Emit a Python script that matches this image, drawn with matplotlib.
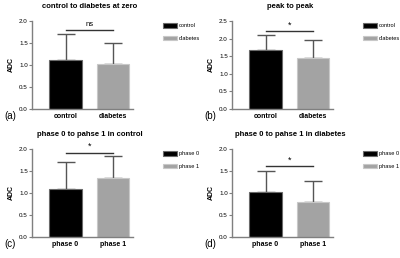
import matplotlib
matplotlib.use("Agg")
import matplotlib.pyplot as plt

plt.rcParams["font.family"] = ["Liberation Sans", "DejaVu Sans"]

# ---------------------------------------------------------------------------
# Data
# ---------------------------------------------------------------------------
titles = ["control to diabetes at zero", "peak to peak",
          "phase 0 to pahse 1 in control", "phase 0 to pahse 1 in diabetes"]
panel_tags = ["(a)", "(b)", "(c)", "(d)"]
groups_ab = ["control", "diabetes"]
groups_cd = ["phase 0", "phase 1"]
means_a = [1.12, 1.03]
sd_a = [0.58, 0.47]
means_b = [1.68, 1.45]
sd_b = [0.42, 0.50]
means_c = [1.10, 1.35]
sd_c = [0.60, 0.48]
means_d = [1.02, 0.80]
sd_d = [0.49, 0.47]
sig_labels = ["ns", "*", "*", "*"]
sig_heights = [1.80, 2.22, 1.92, 1.61]
ymax = [2.0, 2.5, 2.0, 2.0]
yticks_ab = [0.0, 0.5, 1.0, 1.5, 2.0]
yticks_b = [0.0, 0.5, 1.0, 1.5, 2.0, 2.5]

W, H = 400, 258
BLACK = "#000000"
GREY = "#a3a3a3"
AXC = "#7f7f7f"
ERRC = "#555555"

fig = plt.figure(figsize=(W / 100, H / 100), dpi=100)
fig.patch.set_facecolor("white")

panels = [
    (0, 0, groups_ab, means_a, sd_a, yticks_ab),
    (200, 0, groups_ab, means_b, sd_b, yticks_b),
    (0, 128, groups_cd, means_c, sd_c, yticks_ab),
    (200, 128, groups_cd, means_d, sd_d, yticks_ab),
]

for i, (ox, oy, groups, means, sds, yt) in enumerate(panels):
    left, right = ox + 32, ox + 133
    top, bottom = oy + 21, oy + 109
    ax = fig.add_axes([left / W, 1 - bottom / H, (right - left) / W, (bottom - top) / H])
    x = [0, 1]
    bars = ax.bar(x, means, width=0.69, color=[BLACK, GREY],
                  edgecolor=["#6a6a6a", "#c8c8c8"], linewidth=0.8, zorder=2)
    ax.errorbar(x, means, yerr=[[0, 0], sds], fmt="none", ecolor=ERRC,
                elinewidth=1.0, capsize=6.8, capthick=1.0, zorder=1)
    ax.set_xlim(-0.705, 1.42)
    ax.set_ylim(0, ymax[i])
    ax.set_yticks(yt)
    ax.set_yticklabels([f"{v:.1f}" for v in yt], fontsize=4.5)
    ax.set_xticks(x)
    ax.set_xticklabels(groups, fontsize=5, fontweight="bold")
    ax.tick_params(axis="x", length=0, pad=3)
    ax.tick_params(axis="y", length=2, width=0.8, color=AXC, pad=1)
    for s in ["top", "right"]:
        ax.spines[s].set_visible(False)
    for s in ["left", "bottom"]:
        ax.spines[s].set_color(AXC)
        ax.spines[s].set_linewidth(1.0)
    ax.set_ylabel("ADC", fontsize=5, fontweight="bold", labelpad=3)

    # significance bar
    h = sig_heights[i]
    ax.plot([0, 1], [h, h], color="#333333", linewidth=1.0, clip_on=False)
    ax.text(0.5, h + ymax[i] * 0.015, sig_labels[i], ha="center", va="bottom",
            fontsize=5.5 if sig_labels[i] == "ns" else 6.5)

    # legend
    ax.legend(bars, groups, loc="upper left",
              bbox_to_anchor=((ox + 163) / W, 1 - (oy + 23) / H),
              bbox_transform=fig.transFigure, frameon=False, fontsize=4.1,
              handlelength=2.5, handleheight=0.9, labelspacing=1.3,
              handletextpad=0.25, borderpad=0, borderaxespad=0)

    fig.text((ox + 90) / W, 1 - (oy + 6) / H, titles[i], ha="center", va="center",
             fontsize=5.5, fontweight="bold")
    fig.text((ox + 4) / W, 1 - (oy + 116) / H, panel_tags[i], ha="left", va="center",
             fontsize=7)

fig.savefig("out.png", dpi=100)
